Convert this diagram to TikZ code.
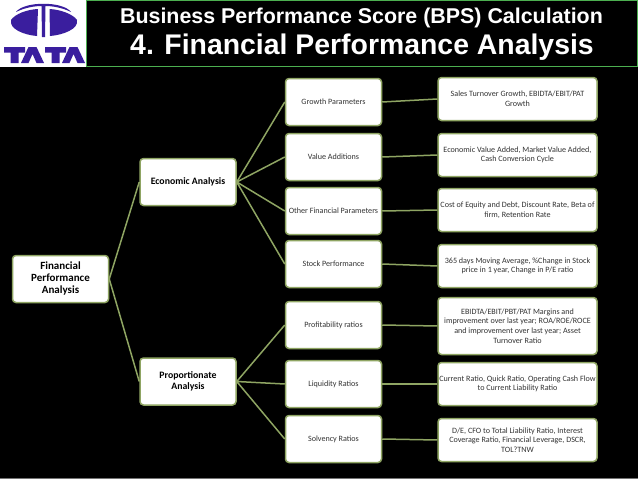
\documentclass[tikz,border=0pt]{standalone}
\usepackage{fontspec}
\setmainfont{Carlito}
\newfontfamily\titlefont{Liberation Sans}
\definecolor{logoblue}{HTML}{3A1E9E}
\definecolor{framegreen}{HTML}{4CAF50}
\definecolor{boxgreen}{HTML}{8FA563}
\begin{document}
\begin{tikzpicture}[x=1pt,y=-1pt,
	tbox/.style={draw=boxgreen,fill=white,line width=1.5pt,rounded corners=3.5pt,align=center,inner sep=0pt,text=black!80,font=\fontsize{8.1}{9.6}\selectfont},
	midbox/.style={tbox,minimum width=96pt,minimum height=47pt},
	leafbox/.style={tbox,minimum width=159pt,minimum height=43pt},
	headbox/.style={midbox,text=black,font=\fontsize{9.8}{10.6}\selectfont\bfseries},
	link/.style={draw=boxgreen,line width=1.5pt},
	logo/.style={fill=logoblue,draw=none}]
	\useasboundingbox(0,0)rectangle(638,479);
	\fill(0,0)rectangle(638,479);
	\fill[black!55](0,477.5)rectangle(638,479);
	% logo
	\fill[white](0,0)rectangle(85.5,66.5);
	\fill[logo](16,12).. controls (24,1) and (63,1) .. (71,12).. controls (62,7.5) and (52,6) .. (45.5,6)--(45,37)--(42,37)--(41.5,6).. controls (35,6) and (25,7.5) .. (16,12)--cycle;
	\fill[logo](11,20).. controls (15,14) and (27,9.5) .. (38,9)--(37,36).. controls (24,35) and (9,29) .. (11,20)--cycle;
	\fill[logo](77,20).. controls (73,14) and (60,9.5) .. (49.5,9)--(50,36).. controls (63,35) and (79,29) .. (77,20)--cycle;
	\foreach \dx in {0,41}{
		\fill[logo](4+\dx,47)--(25+\dx,47)--(25+\dx,52.5)--(18.5+\dx,52.5)--(18.5+\dx,63)--(10.5+\dx,63)--(10.5+\dx,52.5)--(4+\dx,52.5)--cycle;
		\fill[logo](\dx+28.5,47)--(\dx+36.5,47)--(\dx+44,63)--(\dx+36.5,63)--(\dx+32.5,54)--(\dx+28.5,63)--(\dx+21,63)--cycle;
	}
	% title frame
	\draw[framegreen,line width=1pt](86,.5)rectangle(637.5,66);
	\node[text=white,font=\titlefont\fontsize{21.4}{23}\selectfont\bfseries](titleone) at (361.5,17.5){Business Performance Score (BPS) Calculation};
	\node[text=white,font=\titlefont\fontsize{28.4}{30}\selectfont\bfseries](titletwo) at (362,47){4. Financial Performance Analysis};
	% boxes
	\node[headbox,font=\fontsize{11}{12}\selectfont\bfseries](finance) at (60.5,279){Financial\\Performance\\Analysis};
	\node[headbox](economic) at (188,182){Economic Analysis};
	\node[headbox](proportion) at (188,381.5){Proportionate\\Analysis};
	\node[midbox](growth) at (333.5,102){Growth Parameters};
	\node[midbox](value) at (333.5,157){Value Additions};
	\node[midbox](other) at (333.5,211){Other Financial Parameters};
	\node[midbox](stock) at (333.5,264){Stock Performance};
	\node[midbox](profit) at (333.5,325){Profitability ratios};
	\node[midbox](liquid) at (333.5,384){Liquidity Ratios};
	\node[midbox](solvent) at (333.5,439){Solvency Ratios};
	\node[leafbox](growthleaf) at (517.5,99){Sales Turnover Growth, EBIDTA/EBIT/PAT\\Growth};
	\node[leafbox](valueleaf) at (517.5,155){Economic Value Added, Market Value Added,\\Cash Conversion Cycle};
	\node[leafbox](otherleaf) at (517.5,210){Cost of Equity and Debt, Discount Rate, Beta of\\firm, Retention Rate};
	\node[leafbox](stockleaf) at (517.5,266){365 days Moving Average, \%Change in Stock\\price in 1 year, Change in P/E ratio};
	\node[leafbox,minimum height=57pt](profitleaf) at (517.5,326){EBIDTA/EBIT/PBT/PAT Margins and\\improvement over last year; ROA/ROE/ROCE\\and improvement over last year; Asset\\Turnover Ratio};
	\node[leafbox](liquidleaf) at (517.5,384){Current Ratio, Quick Ratio, Operating Cash Flow\\to Current Liability Ratio};
	\node[leafbox](solventleaf) at (517.5,440){D/E, CFO to Total Liability Ratio, Interest\\Coverage Ratio, Financial Leverage, DSCR,\\TOL?TNW};
	% links
	\draw[link](finance.east)--(economic.west);
	\draw[link](finance.east)--(proportion.west);
	\foreach \kid in {growth,value,other,stock}{
		\draw[link](economic.east)--(\kid.west);
		\draw[link](\kid.east)--(\kid leaf.west);
	}
	\foreach \kid in {profit,liquid,solvent}{
		\draw[link](proportion.east)--(\kid.west);
		\draw[link](\kid.east)--(\kid leaf.west);
	}
\end{tikzpicture}
\end{document}
